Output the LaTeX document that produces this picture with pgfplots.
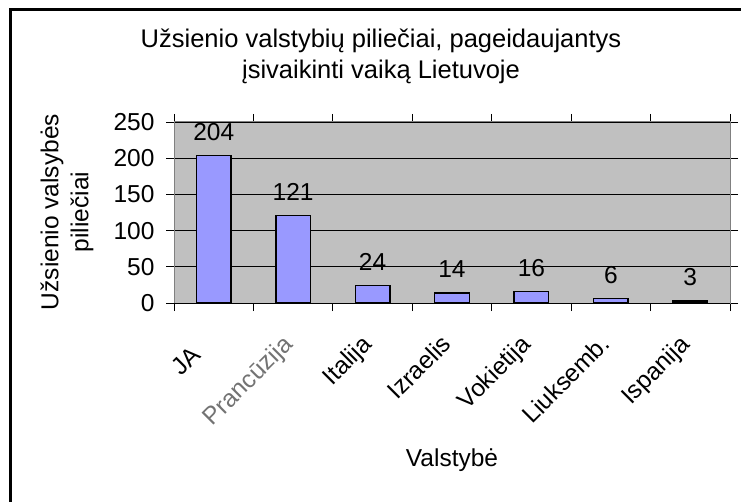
\documentclass[border=0pt]{standalone}
\usepackage{fontspec}
\setmainfont{Liberation Sans}
\usepackage{pgfplots}
\pgfplotsset{compat=1.18}
\definecolor{barfill}{HTML}{9999FF}
\definecolor{plotbg}{HTML}{C0C0C0}
\definecolor{frame}{HTML}{808080}
\newcommand{\bigf}{\fontsize{24.5}{30}\selectfont}
\newcommand{\titlef}{\fontsize{25.5}{31}\selectfont}
\begin{document}
\begin{tikzpicture}
\clip (0,0) rectangle (741pt,501pt);
\fill[white] (0,0) rectangle (741pt,501pt);
\draw[line width=3pt] (10pt,491pt) rectangle (790pt,-40pt);
\node[align=center, font=\titlef, anchor=north] at (381pt,476pt) {Užsienio valstybių piliečiai, pageidaujantys\\ įsivaikinti vaiką Lietuvoje};
\node[align=center, font=\bigf, rotate=90] at (67pt,289pt) {Užsienio valsybės\\ piliečiai};
\node[font=\bigf] at (452pt,41pt) {Valstybė};
\begin{axis}[
  at={(174pt,198pt)}, anchor=south west,
  scale only axis, width=556pt, height=181pt,
  xmin=-0.5, xmax=6.5, ymin=0, ymax=250,
  axis background/.style={fill=plotbg},
  axis line style={frame, line width=1pt},
  ytick={0,50,...,250},
  ymajorgrids, major grid style={black, line width=0.8pt},
  xtick={0,...,6},
  xticklabels={JA\phantom{V}, {\color{black!55}Prancūzija}, Italija, Izraelis, Vokietija, Liuksemb., Ispanija},
  minor xtick={-0.5,0.5,...,6.5},
  xtick style={draw=none},
  minor x tick style={black, line width=0.8pt, draw=black},
  ytick style={black, line width=0.8pt},
  tick align=outside,
  major tick length=8pt, minor tick length=8pt,
  tick label style={font=\bigf},
  /pgf/number format/assume math mode=true,
  xticklabel style={rotate=45, anchor=north east, inner sep=2pt, xshift=-22pt, yshift=-5pt},
  yticklabel style={xshift=-8pt},
  ybar, bar width=34.6pt,
  nodes near coords,
  every node near coord/.append style={font=\bigf, anchor=south, yshift=11pt, black},
  clip=false,
]
\addplot[fill=barfill, draw=black, line width=1.4pt] coordinates {(0,204) (1,121) (2,24) (3,14) (4,16) (5,6) (6,3)};
\draw[black, line width=1pt] (rel axis cs:0,0) -- (rel axis cs:1,0);
\end{axis}
\end{tikzpicture}
\end{document}
